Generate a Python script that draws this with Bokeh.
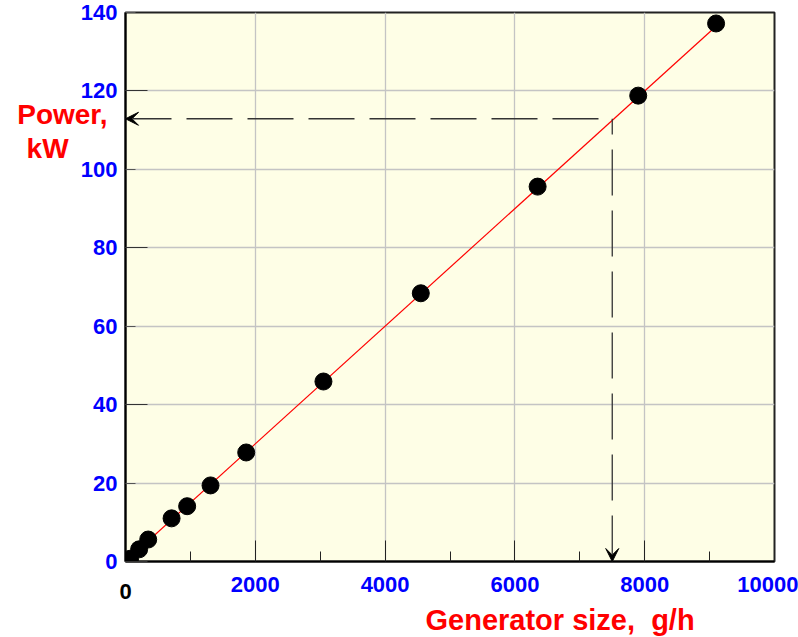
from bokeh.plotting import figure
from bokeh.models import (Range1d, FixedTicker, Arrow, VeeHead, Title)
from bokeh.embed import file_html
from bokeh.resources import INLINE

# ---- data ----
gen_size = [70, 210, 350, 710, 950, 1310, 1860, 3050, 4550, 6350, 7900, 9100]
power = [0.7, 3.1, 5.6, 11.0, 14.1, 19.4, 27.8, 45.9, 68.4, 95.6, 118.8, 137.2]
fit_x = [0, 9100]
fit_y = [0, 136.5]
x_ticks = [0, 2000, 4000, 6000, 8000, 10000]
x_minor = [1000, 3000, 5000, 7000, 9000]
y_ticks = [0, 20, 40, 60, 80, 100, 120, 140]
y_long = [0, 40, 80, 120]
read_x = 7500
read_y = 112.9

FONT = "Liberation Sans"
NB = "\u00a0"

p = figure(width=798, height=637, output_backend="svg", toolbar_location=None,
           x_range=Range1d(0, 10000), y_range=Range1d(0, 140),
           min_border_left=125, min_border_right=24, min_border_top=12,
           min_border_bottom=76)
p.background_fill_color = "#FEFEE6"
p.border_fill_color = "white"
p.outline_line_color = "#222222"
p.outline_line_width = 2

# x axis
xa = p.xaxis[0]
xa.ticker = FixedTicker(ticks=x_ticks, minor_ticks=x_minor)
xa.major_label_overrides = {0: ""}
xa.major_tick_in = 21
xa.major_tick_out = 0
xa.minor_tick_in = 10
xa.minor_tick_out = 0
xa.major_tick_line_color = "#222222"
xa.minor_tick_line_color = "#222222"
xa.axis_line_color = "black"
xa.axis_line_width = 2
xa.major_label_text_font = FONT
xa.major_label_text_font_style = "bold"
xa.major_label_text_font_size = "22px"
xa.major_label_text_color = "#0000FF"
xa.major_label_standoff = 15
# black "0" at the axis start
xa.axis_label = "0"
xa.axis_label_standoff_mode = "axis"
xa.axis_label_standoff = 22
xa.axis_label_align = "start"
xa.axis_label_text_font = FONT
xa.axis_label_text_font_style = "bold"
xa.axis_label_text_font_size = "22px"
xa.axis_label_text_color = "black"

# y axis
ya = p.yaxis[0]
ya.ticker = FixedTicker(ticks=y_ticks, minor_ticks=y_long)
ya.major_tick_in = 10
ya.major_tick_out = 0
ya.minor_tick_in = 22
ya.minor_tick_out = 0
ya.major_tick_line_color = "#555555"
ya.minor_tick_line_color = "#333333"
ya.axis_line_color = "black"
ya.axis_line_width = 2
ya.major_label_text_font = FONT
ya.major_label_text_font_style = "bold"
ya.major_label_text_font_size = "22px"
ya.major_label_text_color = "#0000FF"
ya.major_label_standoff = 8
# y title (leading blank lines push it down from the top anchor)
ya.axis_label = (NB + "\n") * 7 + "Power,\nkW" + NB * 5
ya.axis_label_orientation = "horizontal"
ya.axis_label_standoff_mode = "axis"
ya.axis_label_standoff = 18
ya.axis_label_align = "end"
ya.axis_label_text_font = FONT
ya.axis_label_text_font_style = "bold"
ya.axis_label_text_font_size = "28px"
ya.axis_label_text_line_height = 1.1
ya.axis_label_text_color = "#FF0000"

# grids
p.xgrid.ticker = FixedTicker(ticks=x_ticks)
p.ygrid.ticker = FixedTicker(ticks=y_ticks)
p.xgrid.grid_line_color = "#c4c4c4"
p.ygrid.grid_line_color = "#c4c4c4"
p.xgrid.grid_line_width = 1.3
p.ygrid.grid_line_width = 1.3

# dashed reading lines with arrows
p.add_layout(Arrow(start=VeeHead(size=13, fill_color="black", line_color="black"),
                   end=None, x_start=0, y_start=read_y, x_end=read_x, y_end=read_y,
                   line_color="#333333", line_width=1.3, line_dash="46 15"))
p.add_layout(Arrow(start=VeeHead(size=13, fill_color="black", line_color="black"),
                   end=None, x_start=read_x, y_start=0, x_end=read_x, y_end=read_y,
                   line_color="#333333", line_width=1.3, line_dash="46 15"))

# fit line and points
p.line(fit_x, fit_y, line_color="#FF0000", line_width=1.2)
p.scatter(gen_size, power, size=17, color="black")

# x title as a below-panel Title
p.add_layout(Title(text="Generator size," + NB + " g/h", align="left", offset=300,
                   standoff=0, text_font=FONT, text_font_style="bold",
                   text_font_size="29px", text_color="#FF0000"), "below")

open("out.html", "w").write(file_html(p, INLINE))
